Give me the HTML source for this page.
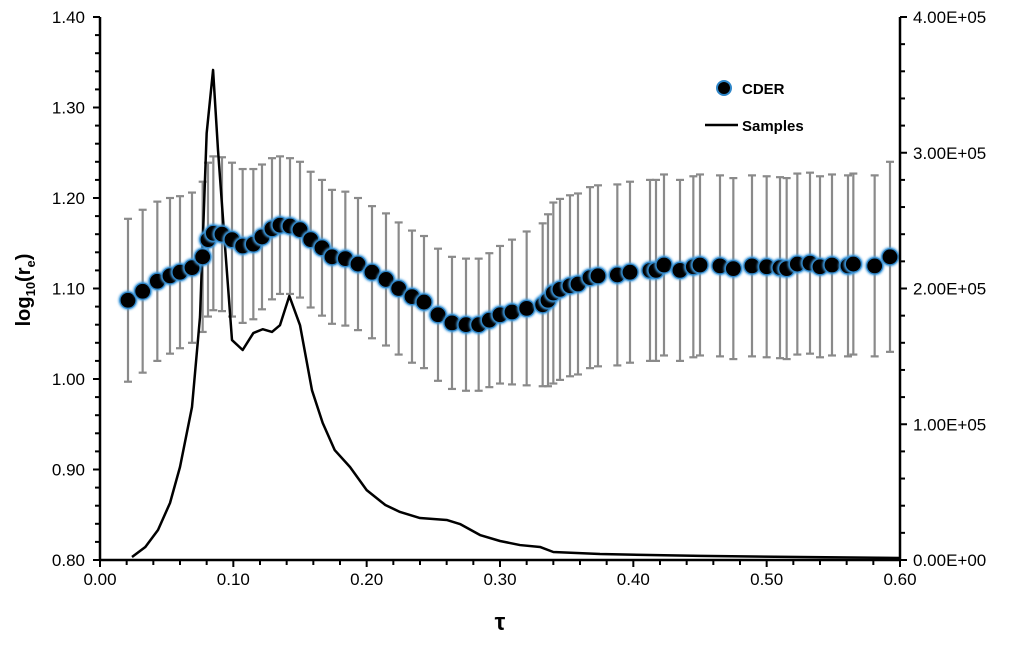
<!DOCTYPE html>
<html><head><meta charset="utf-8"><style>
body{margin:0;background:#fff;}
svg text{font-family:"Liberation Sans",sans-serif;}
</style></head><body>
<svg id="chart" width="1024" height="640" xmlns="http://www.w3.org/2000/svg">
<defs><filter id="glow" x="-50%" y="-50%" width="200%" height="200%"><feGaussianBlur stdDeviation="1"/></filter></defs>
</svg>
<script>
const cderTau=[.021,.032,.043,.0525,.06,.069,.077,.081,.085,.0915,.099,.107,.115,.1215,.129,.135,.1425,.15,.158,.1665,.174,.184,.1935,.204,.2145,.224,.234,.243,.2535,.264,.2745,.284,.292,.30,.309,.32,.332,.336,.34,.345,.3525,.3585,.3675,.3735,.388,.3975,.4125,.417,.423,.435,.445,.45,.465,.475,.489,.5,.51,.515,.523,.5325,.54,.549,.561,.565,.581,.5925];
const cderVal=[1.087,1.097,1.108,1.114,1.118,1.123,1.135,1.154,1.161,1.160,1.154,1.147,1.149,1.157,1.166,1.170,1.169,1.165,1.154,1.145,1.135,1.133,1.127,1.118,1.110,1.100,1.091,1.085,1.071,1.062,1.060,1.060,1.065,1.071,1.074,1.078,1.082,1.087,1.095,1.099,1.103,1.105,1.112,1.114,1.115,1.118,1.120,1.120,1.126,1.120,1.124,1.126,1.125,1.122,1.125,1.124,1.123,1.122,1.127,1.128,1.124,1.126,1.125,1.127,1.125,1.135];
const cderErr=[.09,.09,.088,.086,.084,.083,.083,.085,.085,.085,.085,.085,.083,.08,.078,.076,.075,.075,.075,.075,.074,.074,.073,.073,.073,.073,.073,.073,.073,.073,.073,.073,.074,.076,.08,.085,.09,.095,.1,.1,.1,.1,.1,.1,.1,.1,.1,.1,.1,.1,.1,.1,.1,.1,.1,.1,.1,.1,.1,.1,.1,.1,.1,.1,.1,.105];
const sampTau=[.024,.034,.0435,.0525,.06,.069,.075,.080,.0848,.0885,.094,.099,.107,.115,.122,.129,.135,.142,.15,.159,.167,.176,.1875,.20,.214,.225,.24,.26,.27,.285,.30,.315,.33,.34,.375,.45,.525,.60];
const sampVal=[.022,.096,.221,.42,.685,1.127,1.79,3.145,3.61,3.02,2.28,1.62,1.547,1.672,1.70,1.68,1.73,1.945,1.73,1.25,1.01,.81,.685,.515,.405,.354,.309,.295,.265,.184,.14,.11,.096,.059,.044,.03,.022,.015];
const xTicks=[0,.1,.2,.3,.4,.5,.6];
const xLabels=["0.00","0.10","0.20","0.30","0.40","0.50","0.60"];
const yTicks=[.8,.9,1.0,1.1,1.2,1.3,1.4];
const yLabels=["0.80","0.90","1.00","1.10","1.20","1.30","1.40"];
const y2Ticks=[0,1,2,3,4];
const y2Labels=["0.00E+00","1.00E+05","2.00E+05","3.00E+05","4.00E+05"];

const L=100,R=900,T=17,B=560;
const X=t=>L+t/0.6*(R-L);
const Y=v=>B-(v-0.8)/0.6*(B-T);
const Y2=v=>B-v/4*(B-T);
const svg=document.getElementById('chart');
const NS='http://www.w3.org/2000/svg';
function mk(tag,attrs,parent){const e=document.createElementNS(NS,tag);for(const k in attrs)e.setAttribute(k,attrs[k]);(parent||svg).appendChild(e);return e;}

const eg=mk('g',{});


cderTau.forEach((t,i)=>{
  const x=X(t),y1=Y(cderVal[i]+cderErr[i]),y2=Y(cderVal[i]-cderErr[i]);
  const g=mk('g',{stroke:'#8a8a8a','stroke-width':2.2},eg);
  
  
  mk('line',{x1:x,x2:x,y1:y1,y2:y2},g);
  mk('line',{x1:x-4,x2:x+4,y1:y1,y2:y1},g);
  mk('line',{x1:x-4,x2:x+4,y1:y2,y2:y2},g);
});
const sp=mk('polyline',{points:sampTau.map((t,i)=>X(t)+','+Y2(sampVal[i])).join(' '),fill:'none',stroke:'#000','stroke-width':2.5,'stroke-linejoin':'round'});


const mg=mk('g',{});


cderTau.forEach((t,i)=>{
  mk('circle',{cx:X(t),cy:Y(cderVal[i]),r:9.5,fill:'#4aa0e0',filter:'url(#glow)'},mg);
  const c=mk('circle',{cx:X(t),cy:Y(cderVal[i]),r:8,fill:'#000',stroke:'#2f86c8','stroke-width':1.2},mg);
  
  
});
const ax=mk('g',{stroke:'#000','stroke-width':2.5});


mk('line',{x1:L,x2:L,y1:T,y2:B+1},ax);
mk('line',{x1:R,x2:R,y1:T,y2:B+1},ax);
mk('line',{x1:L-1,x2:R+1,y1:B,y2:B},ax);
const tk=mk('g',{stroke:'#000','stroke-width':2});
for(let i=0;i<=30;i++){const v=.8+i*.02,y=Y(v);const maj=i%5==0;mk('line',{x1:L-(maj?7:5),x2:L,y1:y,y2:y},tk);}
for(let i=0;i<=20;i++){const y=Y2(i*0.2);const maj=i%5==0;mk('line',{x1:R,x2:R+(maj?7:5),y1:y,y2:y},tk);}
for(let i=0;i<=30;i++){const x=X(i*.02);const maj=i%5==0;mk('line',{x1:x,x2:x,y1:B,y2:B+(maj?7:5)},tk);}
yTicks.forEach((v,i)=>{const t=mk('text',{x:85,y:Y(v)+6,'text-anchor':'end','font-size':17});t.textContent=yLabels[i];});
y2Ticks.forEach((v,i)=>{const t=mk('text',{x:913,y:Y2(v)+6,'font-size':17});t.textContent=y2Labels[i];});
xTicks.forEach((v,i)=>{const t=mk('text',{x:X(v),y:585,'text-anchor':'middle','font-size':17});t.textContent=xLabels[i];});
</script>
<svg style="position:absolute;left:0;top:0" width="1024" height="640" xmlns="http://www.w3.org/2000/svg">
<text x="500" y="630" text-anchor="middle" font-size="24" font-weight="bold" font-family="Liberation Serif, serif">τ</text>
<text transform="translate(30,290) rotate(-90)" text-anchor="middle" font-size="20" font-weight="bold" font-family="Liberation Sans, sans-serif">log<tspan font-size="13" dy="5">10</tspan><tspan dy="-5">(r</tspan><tspan font-size="13" dy="5">e</tspan><tspan dy="-5">)</tspan></text>
<g>
<circle cx="724" cy="88" r="7" fill="#000" stroke="#2f86c8" stroke-width="2"/>
<text x="742" y="94" font-size="15" font-weight="bold" font-family="Liberation Sans, sans-serif">CDER</text>
<line x1="705" x2="738" y1="125" y2="125" stroke="#000" stroke-width="2.5"/>
<text x="742" y="131" font-size="15" font-weight="bold" font-family="Liberation Sans, sans-serif">Samples</text>
</g>
</svg>
</body></html>
